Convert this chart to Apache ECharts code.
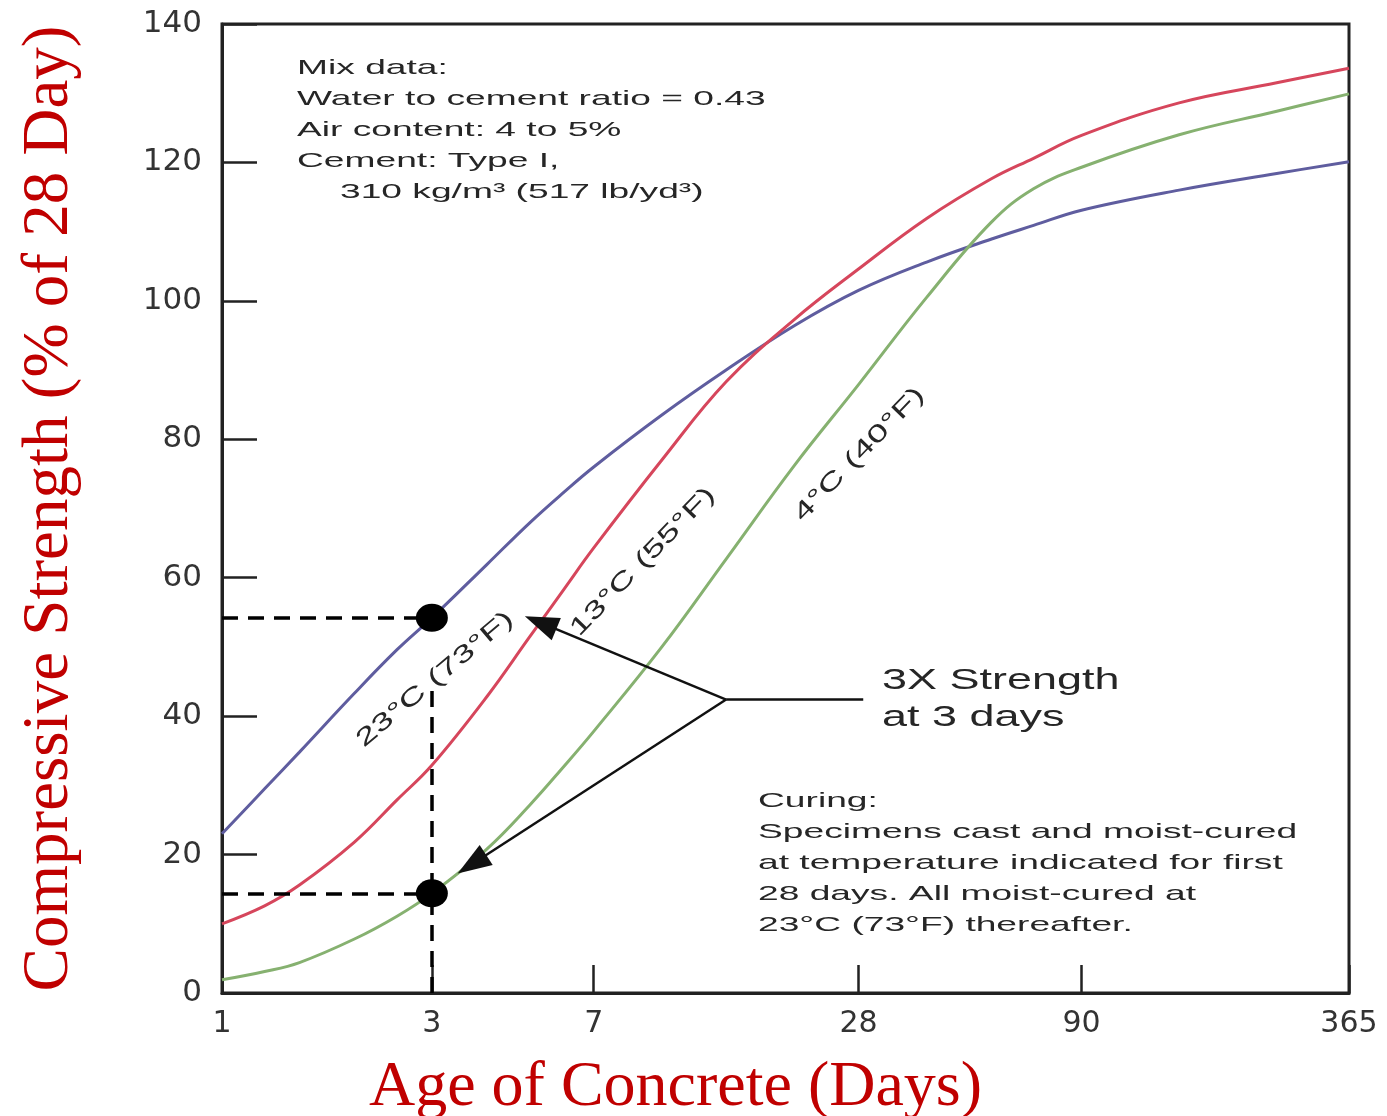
<!DOCTYPE html>
<html>
<head>
<meta charset="utf-8">
<script src="https://cdn.jsdelivr.net/npm/echarts@6/dist/echarts.min.js"></script>
<style>html,body{margin:0;padding:0;background:#fff}#c{width:1387px;height:1116px}</style>
</head>
<body>
<div id="c"></div>
<script>
// ---- data (age in days, strength in % of 28-day strength) ----
const days        = [1, 1.25, 1.5, 2, 2.5, 3, 4, 5, 6, 7, 10, 14, 20, 28, 40, 56, 70, 90, 150, 250, 365];
const strength23C = [23.0, 29.5, 34.8, 43.3, 49.6, 54.2, 61.9, 67.9, 72.4, 76.0, 83.5, 90.0, 96.4, 101.5, 105.6, 108.9, 110.9, 113.1, 116.0, 118.4, 120.1];
const strength13C = [10.0, 12.6, 15.6, 21.8, 27.9, 32.9, 42.8, 51.4, 58.4, 64.3, 77.0, 88.3, 97.3, 104.6, 111.9, 117.6, 120.6, 123.9, 128.6, 131.5, 133.6];
const strength4C  = [1.9, 3.1, 4.4, 7.8, 11.1, 14.4, 20.8, 27.1, 32.8, 37.8, 50.0, 62.7, 76.2, 87.9, 100.5, 111.3, 116.2, 119.3, 124.0, 127.4, 129.9];
const xTickDays   = [1, 3, 7, 28, 90, 365];
const yTicks      = [0, 20, 40, 60, 80, 100, 120, 140];
const seriesNames = ['23°C (73°F)', '13°C (55°F)', '4°C (40°F)'];
const markDay     = 3;

const iMark = days.indexOf(markDay);
const v23 = strength23C[iMark];
const v4  = strength4C[iMark];

const chart = echarts.init(document.getElementById('c'), null, {renderer: 'canvas'});
const sans = "'Liberation Sans', Arial, sans-serif";
const serif = "'Liberation Serif', 'Times New Roman', serif";
const txtColor = '#262626';

function pairs(ys) { return days.map((d, i) => [d, ys[i]]); }

const option = {
  animation: false,
  backgroundColor: '#fff',
  grid: {left: 222, right: 38, top: 24, bottom: 123, show: true, borderColor: '#222', borderWidth: 3,
         containLabel: false, outerBoundsMode: 'none'},
  xAxis: {
    type: 'log', logBase: 10, min: xTickDays[0], max: xTickDays[xTickDays.length - 1],
    name: 'Age of Concrete (Days)', nameLocation: 'middle', nameGap: 63,
    nameTextStyle: {fontFamily: serif, fontSize: 64, color: '#c00000', padding: [0, 220, 0, 0]},
    axisLine: {lineStyle: {color: '#222', width: 3}},
    axisTick: {inside: true, length: 28, customValues: xTickDays, lineStyle: {color: '#222', width: 2.5}},
    axisLabel: {customValues: xTickDays, fontFamily: "'DejaVu Sans', sans-serif", fontSize: 30, color: '#333', margin: 16,
                formatter: v => String(Math.round(v))},
    splitLine: {show: false}, minorTick: {show: false}
  },
  yAxis: {
    type: 'value', min: yTicks[0], max: yTicks[yTicks.length - 1], interval: 20,
    name: 'Compressive Strength (% of 28 Day)', nameLocation: 'middle', nameGap: 140,
    nameTextStyle: {fontFamily: serif, fontSize: 65, color: '#c00000'},
    axisLine: {show: true, lineStyle: {color: '#222', width: 3}},
    axisTick: {show: true, inside: true, length: 35, lineStyle: {color: '#222', width: 2.5}},
    axisLabel: {fontFamily: "'DejaVu Sans', sans-serif", fontSize: 31, color: '#333', margin: 20},
    splitLine: {show: false}
  },
  series: [
    {name: seriesNames[0], type: 'line', data: pairs(strength23C), smooth: 0.4, symbol: 'none',
     lineStyle: {color: '#5f5d9f', width: 3}, z: 3},
    {name: seriesNames[1], type: 'line', data: pairs(strength13C), smooth: 0.4, symbol: 'none',
     lineStyle: {color: '#d6465c', width: 3}, z: 3},
    {name: seriesNames[2], type: 'line', data: pairs(strength4C), smooth: 0.4, symbol: 'none',
     lineStyle: {color: '#86b170', width: 3}, z: 3},
    {name: '3-day points', type: 'scatter', data: [[markDay, v23], [markDay, v4]],
     symbol: 'circle', symbolSize: [32, 28], itemStyle: {color: '#000', opacity: 1}, z: 6,
     emphasis: {disabled: true},
     markLine: {
       silent: true, symbol: 'none', label: {show: false},
       lineStyle: {color: '#000', width: 3.5, type: [16, 10], opacity: 1},
       emphasis: {disabled: true},
       data: [
         [{coord: [xTickDays[0], v23]}, {coord: [markDay, v23]}],
         [{coord: [xTickDays[0], v4]}, {coord: [markDay, v4]}],
         [{coord: [markDay, 0]}, {coord: [markDay, 45]}]
       ]
     }},
    {name: 'arrows', type: 'line', data: [], z: 5,
     markLine: {
       silent: true, label: {show: false}, symbol: ['none', 'triangle'], symbolSize: [24, 34],
       lineStyle: {color: '#111', width: 2.5, type: 'solid', opacity: 1}, itemStyle: {color: '#000'},
       emphasis: {disabled: true},
       data: [
         [{coord: [14, 42.4]}, {coord: [5.3, 53.5]}],
         [{coord: [14, 42.4]}, {coord: [3.7, 18.6]}],
         [{coord: [14, 42.4], symbol: 'none'}, {coord: [28.7, 42.4], symbol: 'none'}]
       ]
     }}
  ]
};
chart.setOption(option);

// ---- annotations ----
function txt(x, y, s, size, sx) {
  return {type: 'text', x: x, y: y, scaleX: sx, z: 10, silent: true,
    style: {text: s, fontFamily: sans, fontSize: size, fill: txtColor, textAlign: 'left', textVerticalAlign: 'middle'}};
}
const g = [];
const mix = ['Mix data:', 'Water to cement ratio = 0.43', 'Air content: 4 to 5%', 'Cement: Type I,'];
mix.forEach((s, i) => g.push(txt(297, 68 + i * 31, s, 21, 1.77)));
g.push(txt(340, 192, '310 kg/m³ (517 lb/yd³)', 21, 1.77));
const cur = ['Curing:', 'Specimens cast and moist-cured', 'at temperature indicated for first', '28 days. All moist-cured at', '23°C (73°F) thereafter.'];
cur.forEach((s, i) => g.push(txt(758, 801 + i * 31, s, 21, 1.77)));
g.push(txt(882, 681, '3X Strength', 29, 1.55));
g.push(txt(882, 718, 'at 3 days', 29, 1.55));

const curveLabels = [
  {s: seriesNames[0], at: [3.05, 45.3], rot: 40},
  {s: seriesNames[1], at: [9.05, 62.3], rot: 46},
  {s: seriesNames[2], at: [28.1, 77.8], rot: 46}
];
curveLabels.forEach(c => {
  const p = chart.convertToPixel({gridIndex: 0}, c.at);
  g.push({type: 'text', x: p[0], y: p[1], rotation: c.rot * Math.PI / 180, scaleX: 1.55, z: 10, silent: true,
    style: {text: c.s, fontFamily: sans, fontSize: 24, fill: txtColor, textAlign: 'center', textVerticalAlign: 'middle'}});
});
chart.setOption({graphic: g});
</script>
</body>
</html>
